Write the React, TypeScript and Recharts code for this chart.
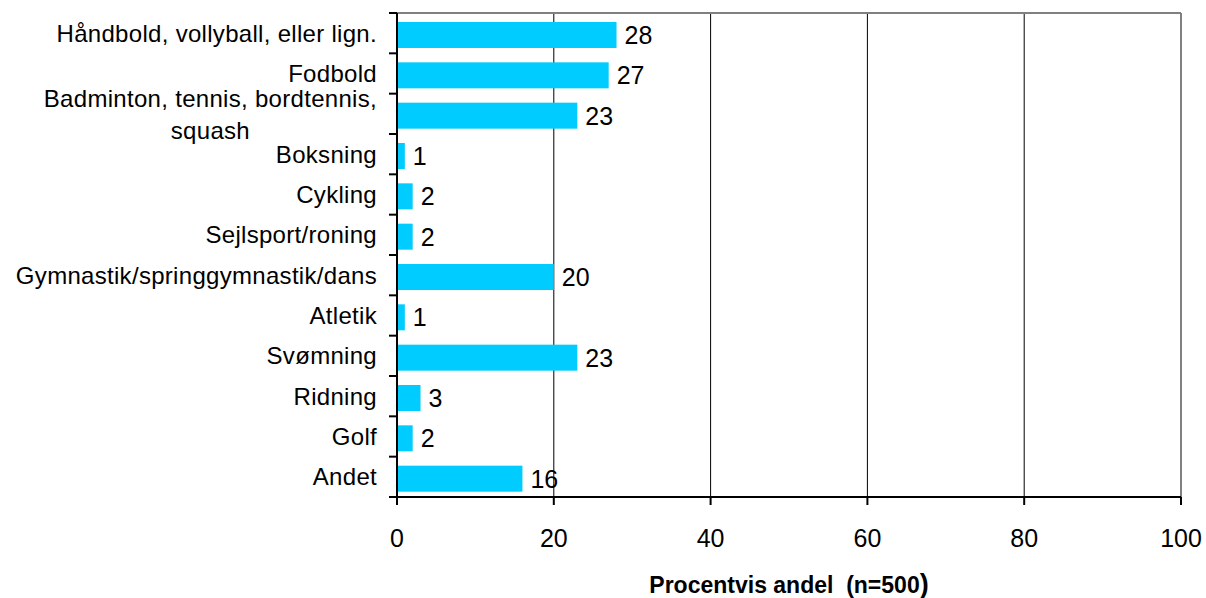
import React from 'react';
import { BarChart, Bar, XAxis, YAxis, CartesianGrid, LabelList } from 'recharts';

const categories = [
  'Håndbold, vollyball, eller lign.',
  'Fodbold',
  'Badminton, tennis, bordtennis,\nsquash',
  'Boksning',
  'Cykling',
  'Sejlsport/roning',
  'Gymnastik/springgymnastik/dans',
  'Atletik',
  'Svømning',
  'Ridning',
  'Golf',
  'Andet',
];
const values = [28, 27, 23, 1, 2, 2, 20, 1, 23, 3, 2, 16];
const xTicks = [0, 20, 40, 60, 80, 100];
const axisTitle = 'Procentvis andel  (n=500';
const axisTitleClose = ')';

const data = categories.map((name, i) => ({ name, value: values[i] }));

const FONT = '"Liberation Sans", Arial, Helvetica, sans-serif';
const CAT_FONT_SIZE = 24;
const CAT_LETTER_SPACING = 0.3;
const NUM_FONT_SIZE = 25;
const TICK_SIZE = 8;
const TICK_MARGIN = 12;
const LINE_GAP = 32;
const BAR_COLOR = '#00CCFF';
const BORDER = '#808080';

let canvasCtx: CanvasRenderingContext2D | null = null;
function measure(text: string): number {
  if (typeof document !== 'undefined') {
    if (!canvasCtx) {
      const c = document.createElement('canvas');
      canvasCtx = c.getContext('2d');
    }
    if (canvasCtx) {
      canvasCtx.font = `${CAT_FONT_SIZE}px ${FONT}`;
      return canvasCtx.measureText(text).width + CAT_LETTER_SPACING * text.length;
    }
  }
  return text.length * CAT_FONT_SIZE * 0.5;
}

function CategoryTick(props: any) {
  const { x, y, payload, visibleTicksCount, height, index } = props;
  const band = payload && payload.offset ? payload.offset * 2 : height / visibleTicksCount;
  const axisX = x + TICK_SIZE + TICK_MARGIN;
  const lines = String(payload.value).split('\n');
  const isLast = index === visibleTicksCount - 1;
  let textEl;
  if (lines.length === 1) {
    textEl = (
      <text
        x={x}
        y={y}
        dy="0.355em"
        textAnchor="end"
        fontSize={CAT_FONT_SIZE}
        fontFamily={FONT}
        letterSpacing={CAT_LETTER_SPACING}
        fill="#000"
      >
        {lines[0]}
      </text>
    );
  } else {
    const maxW = Math.max(...lines.map(measure));
    const cx = x - maxW / 2;
    const startY = y + 1 - ((lines.length - 1) * LINE_GAP) / 2;
    textEl = (
      <text
        textAnchor="middle"
        fontSize={CAT_FONT_SIZE}
        fontFamily={FONT}
        letterSpacing={CAT_LETTER_SPACING}
        fill="#000"
      >
        {lines.map((ln, i) => (
          <tspan key={i} x={cx} y={startY + i * LINE_GAP} dy="0.355em">
            {ln}
          </tspan>
        ))}
      </text>
    );
  }
  return (
    <g>
      <line x1={axisX - TICK_SIZE} x2={axisX} y1={y - band / 2} y2={y - band / 2} stroke="#000" strokeWidth={2} />
      {isLast && (
        <line x1={axisX - TICK_SIZE} x2={axisX} y1={y + band / 2} y2={y + band / 2} stroke="#000" strokeWidth={2} />
      )}
      {textEl}
    </g>
  );
}

function TitleLabel(props: any) {
  const vb = props.viewBox || {};
  const cx = vb.x + vb.width / 2;
  const y = vb.y + vb.height - 5;
  return (
    <text
      x={cx}
      y={y}
      textAnchor="middle"
      fontFamily={FONT}
      fontWeight="bold"
      fontSize={23}
      fill="#000"
      style={{ whiteSpace: 'pre' }}
    >
      <tspan>{axisTitle}</tspan>
      <tspan fontSize={27}>{axisTitleClose}</tspan>
    </text>
  );
}

function ShiftedBar(props: any) {
  const { x, y, width, height } = props;
  return <rect x={x} y={y + 2} width={width} height={height} fill={BAR_COLOR} />;
}

export default function App() {
  return (
    <div style={{ position: 'fixed', left: 0, top: 0, width: 1206, height: 598, background: '#fff' }}>
      <BarChart
        width={1206}
        height={598}
        data={data}
        layout="vertical"
        margin={{ top: 13, right: 25, bottom: 0, left: 0 }}
        style={{ fontFamily: FONT }}
      >
        <CartesianGrid horizontal={false} vertical stroke="#000" strokeWidth={1} />
        <CartesianGrid
          stroke={BORDER}
          strokeWidth={2}
          horizontalCoordinatesGenerator={(args: any) => [args.offset.top]}
          verticalCoordinatesGenerator={(args: any) => [args.offset.left + args.offset.width]}
        />
        <XAxis
          type="number"
          dataKey="value"
          domain={[0, 100]}
          ticks={xTicks}
          interval={0}
          height={101}
          tickSize={TICK_SIZE}
          tickMargin={24}
          axisLine={{ stroke: '#000', strokeWidth: 2 }}
          tickLine={{ stroke: '#000', strokeWidth: 2 }}
          tick={{ fill: '#000', fontSize: NUM_FONT_SIZE, fontFamily: FONT }}
          label={{ content: (p: any) => <TitleLabel {...p} /> }}
        />
        <YAxis
          type="category"
          dataKey="name"
          width={397}
          interval={0}
          tickSize={TICK_SIZE}
          tickMargin={TICK_MARGIN}
          tickLine={false}
          axisLine={{ stroke: '#000', strokeWidth: 2 }}
          tick={(p: any) => <CategoryTick {...p} />}
        />
        <Bar dataKey="value" fill={BAR_COLOR} barSize={26} isAnimationActive={false} shape={(p: any) => <ShiftedBar {...p} />}>
          <LabelList
            dataKey="value"
            position="right"
            offset={8}
            dy={2}
            fill="#000"
            fontSize={NUM_FONT_SIZE}
            fontFamily={FONT}
          />
        </Bar>
      </BarChart>
    </div>
  );
}
